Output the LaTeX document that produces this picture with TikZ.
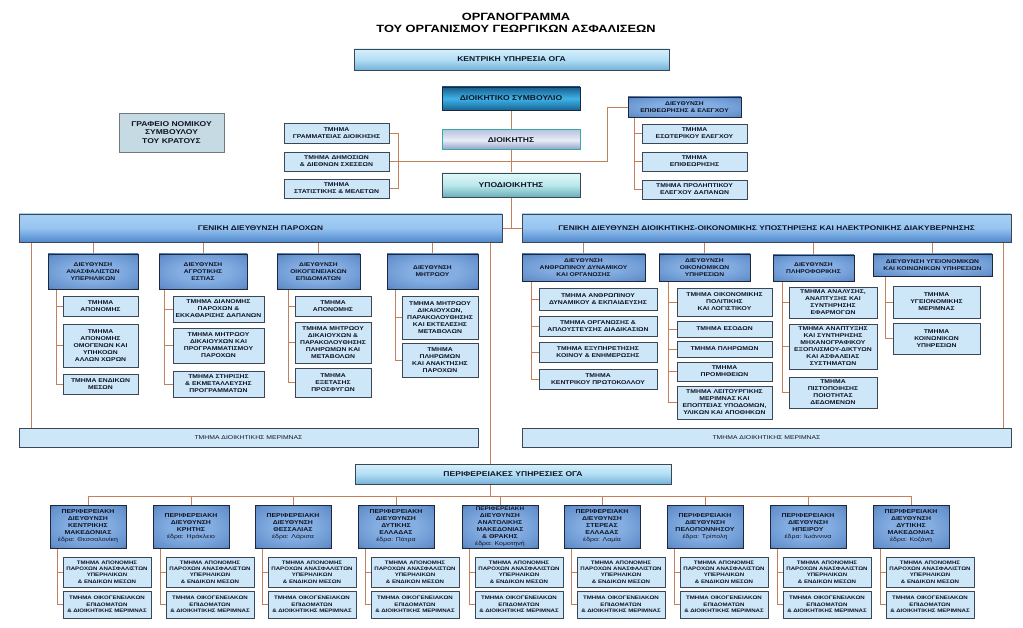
\documentclass[tikz,border=0pt]{standalone}
\usepackage{fontspec}
\setmainfont{Liberation Sans}[FakeStretch=1.22]
\usetikzlibrary{backgrounds}
\definecolor{lnc}{RGB}{196,128,92}
\definecolor{bordc}{RGB}{60,70,84}
\definecolor{tmfill}{RGB}{205,230,248}
\definecolor{txtc}{RGB}{16,20,36}
\definecolor{dirin}{RGB}{132,174,226}
\definecolor{dirmid}{RGB}{100,144,204}
\definecolor{dirout}{RGB}{54,88,144}
\definecolor{diredge}{RGB}{32,54,98}
\pgfdeclareradialshading{dirshade}{\pgfpoint{0bp}{0bp}}{color(0bp)=(dirin); color(14bp)=(dirin); color(31bp)=(dirmid); color(43bp)=(dirout); color(52bp)=(diredge)}
\newcommand\bx[7]{\node[#1, minimum width={((#5)-(#3))*1pt}, minimum height={((#6)-(#4))*1pt}] (#2) at ({((#3)+(#5))/2},{((#4)+(#6))/2}) {#7};}
\tikzset{
  base/.style={rectangle, align=center, inner sep=1pt, text=txtc, draw=bordc, line width=0.7pt},
  kent/.style={base, top color={rgb,255:red,214;green,240;blue,250}, bottom color={rgb,255:red,118;green,178;blue,218}, middle color={rgb,255:red,178;green,222;blue,244}, font={\fontsize{7}{8}\selectfont\bfseries}},
  dsb/.style={base, top color={rgb,255:red,26;green,92;blue,140}, bottom color={rgb,255:red,24;green,100;blue,150}, middle color={rgb,255:red,62;green,180;blue,232}, draw={rgb,255:red,28;green,40;blue,60}, font={\fontsize{7}{8}\selectfont\bfseries}},
  dkb/.style={base, top color={rgb,255:red,184;green,196;blue,224}, bottom color={rgb,255:red,140;green,156;blue,196}, middle color={rgb,255:red,232;green,236;blue,246}, draw={rgb,255:red,58;green,168;blue,168}, line width=1pt, font={\fontsize{7}{8}\selectfont\bfseries}},
  ypb/.style={base, top color={rgb,255:red,226;green,248;blue,248}, bottom color={rgb,255:red,106;green,176;blue,184}, middle color={rgb,255:red,186;green,232;blue,236}, font={\fontsize{7}{8}\selectfont\bfseries}},
  gdb/.style={base, top color={rgb,255:red,168;green,208;blue,244}, bottom color={rgb,255:red,80;green,136;blue,204}, middle color={rgb,255:red,150;green,196;blue,240}, font={\fontsize{6.8}{8}\selectfont\bfseries}},
  dir/.style={base, shading=dirshade, draw={rgb,255:red,30;green,40;blue,60}, font={\fontsize{5.5}{7}\selectfont\bfseries}},
  rdir/.style={dir, font={\fontsize{5.7}{7}\selectfont\bfseries}},
  tm/.style={base, fill=tmfill, font={\fontsize{5.6}{7}\selectfont\bfseries}},
  rsub/.style={tm, font={\fontsize{5}{6.3}\selectfont\bfseries}},
  merb/.style={tm, font={\fontsize{5.6}{7}\selectfont}},
  grafb/.style={base, fill={rgb,255:red,198;green,218;blue,228}, draw={rgb,255:red,110;green,122;blue,130}, font={\fontsize{7}{8.8}\selectfont\bfseries}},
  conn/.style={draw=lnc, line width=0.8pt}
}
\newcommand\reg[3]{%
  \bx{rdir}{r#1}{#2}{505}{#2+76}{548}{#3}
  \bx{rsub}{r#1a}{#2+13}{557}{#2+101}{587}{ΤΜΗΜΑ ΑΠΟΝΟΜΗΣ\\ΠΑΡΟΧΩΝ ΑΝΑΣΦΑΛΙΣΤΩΝ\\ΥΠΕΡΗΛΙΚΩΝ\\\& ΕΝΔΙΚΩΝ ΜΕΣΩΝ}
  \bx{rsub}{r#1b}{#2+13}{591}{#2+101}{618}{ΤΜΗΜΑ ΟΙΚΟΓΕΝΕΙΑΚΩΝ\\ΕΠΙΔΟΜΑΤΩΝ\\\& ΔΙΟΙΚΗΤΙΚΗΣ ΜΕΡΙΜΝΑΣ}
  \begin{pgfonlayer}{background}
    \draw[conn] ([xshift=8pt]r#1.south west) |- (r#1a.west);
    \draw[conn] ([xshift=8pt]r#1.south west) |- (r#1b.west);
    \draw[conn] (r#1.north) -- ([yshift=8pt]r#1.north);
  \end{pgfonlayer}}
\newcommand\edra[1]{{\mdseries έδρα: #1}}
\begin{document}
\begin{tikzpicture}[x=1pt,y=-1pt]
\useasboundingbox (0,0) rectangle (1023,628);
\node[align=center, text=black, font={\fontsize{10.5}{12.5}\selectfont\bfseries}] (title) at (516,23) {ΟΡΓΑΝΟΓΡΑΜΜΑ\\ΤΟΥ ΟΡΓΑΝΙΣΜΟΥ ΓΕΩΡΓΙΚΩΝ ΑΣΦΑΛΙΣΕΩΝ};
% top
\bx{kent}{kent}{354}{49}{669}{70}{ΚΕΝΤΡΙΚΗ ΥΠΗΡΕΣΙΑ ΟΓΑ}
\bx{dsb}{ds}{442}{87}{580}{110}{ΔΙΟΙΚΗΤΙΚΟ ΣΥΜΒΟΥΛΙΟ}
\bx{dkb}{dk}{442}{130}{580}{150}{ΔΙΟΙΚΗΤΗΣ}
\bx{ypb}{yp}{442}{173}{580}{197}{ΥΠΟΔΙΟΙΚΗΤΗΣ}
\bx{tm}{gram}{284}{123}{389}{143}{ΤΜΗΜΑ\\ΓΡΑΜΜΑΤΕΙΑΣ ΔΙΟΙΚΗΣΗΣ}
\bx{tm}{dim}{284}{152}{389}{171}{ΤΜΗΜΑ ΔΗΜΟΣΙΩΝ\\\& ΔΙΕΘΝΩΝ ΣΧΕΣΕΩΝ}
\bx{tm}{stat}{284}{179}{389}{198}{ΤΜΗΜΑ\\ΣΤΑΤΙΣΤΙΚΗΣ \& ΜΕΛΕΤΩΝ}
\bx{dir}{epi}{628}{97}{741}{117}{ΔΙΕΥΘΥΝΣΗ\\ΕΠΙΘΕΩΡΗΣΗΣ \& ΕΛΕΓΧΟΥ}
\bx{tm}{eso}{642}{124}{747}{143}{ΤΜΗΜΑ\\ΕΣΩΤΕΡΙΚΟΥ ΕΛΕΓΧΟΥ}
\bx{tm}{epith}{642}{152}{747}{171}{ΤΜΗΜΑ\\ΕΠΙΘΕΩΡΗΣΗΣ}
\bx{tm}{prol}{642}{180}{747}{199}{ΤΜΗΜΑ ΠΡΟΛΗΠΤΙΚΟΥ\\ΕΛΕΓΧΟΥ ΔΑΠΑΝΩΝ}
\bx{grafb}{graf}{119}{113}{224}{152}{ΓΡΑΦΕΙΟ ΝΟΜΙΚΟΥ\\ΣΥΜΒΟΥΛΟΥ\\ΤΟΥ ΚΡΑΤΟΥΣ}
% general directorates
\bx{gdb}{gd1}{19}{214}{502}{242}{ΓΕΝΙΚΗ ΔΙΕΥΘΥΝΣΗ ΠΑΡΟΧΩΝ}
\bx{gdb}{gd2}{522}{214}{1011}{242}{ΓΕΝΙΚΗ ΔΙΕΥΘΥΝΣΗ ΔΙΟΙΚΗΤΙΚΗΣ-ΟΙΚΟΝΟΜΙΚΗΣ ΥΠΟΣΤΗΡΙΞΗΣ ΚΑΙ ΗΛΕΚΤΡΟΝΙΚΗΣ ΔΙΑΚΥΒΕΡΝΗΣΗΣ}
\bx{merb}{mer1}{19}{428}{478}{447}{ΤΜΗΜΑ ΔΙΟΙΚΗΤΙΚΗΣ ΜΕΡΙΜΝΑΣ}
\bx{merb}{mer2}{522}{428}{1011}{447}{ΤΜΗΜΑ ΔΙΟΙΚΗΤΙΚΗΣ ΜΕΡΙΜΝΑΣ}
% left directorates
\bx{dir}{d1}{48}{254}{138}{289}{ΔΙΕΥΘΥΝΣΗ\\ΑΝΑΣΦΑΛΙΣΤΩΝ\\ΥΠΕΡΗΛΙΚΩΝ}
\bx{dir}{d2}{159}{254}{247}{289}{ΔΙΕΥΘΥΝΣΗ\\ΑΓΡΟΤΙΚΗΣ\\ΕΣΤΙΑΣ}
\bx{dir}{d3}{277}{254}{360}{289}{ΔΙΕΥΘΥΝΣΗ\\ΟΙΚΟΓΕΝΕΙΑΚΩΝ\\ΕΠΙΔΟΜΑΤΩΝ}
\bx{dir}{d4}{387}{254}{478}{289}{ΔΙΕΥΘΥΝΣΗ\\ΜΗΤΡΩΟΥ}
\bx{tm}{s11}{63}{296}{138}{316}{ΤΜΗΜΑ\\ΑΠΟΝΟΜΗΣ}
\bx{tm}{s12}{63}{324}{138}{367}{ΤΜΗΜΑ\\ΑΠΟΝΟΜΗΣ\\ΟΜΟΓΕΝΩΝ ΚΑΙ\\ΥΠΗΚΟΩΝ\\ΑΛΛΩΝ ΧΩΡΩΝ}
\bx{tm}{s13}{63}{374}{138}{394}{ΤΜΗΜΑ ΕΝΔΙΚΩΝ\\ΜΕΣΩΝ}
\bx{tm}{s21}{173}{296}{264}{322}{ΤΜΗΜΑ ΔΙΑΝΟΜΗΣ\\ΠΑΡΟΧΩΝ \&\\ΕΚΚΑΘΑΡΙΣΗΣ ΔΑΠΑΝΩΝ}
\bx{tm}{s22}{173}{328}{264}{363}{ΤΜΗΜΑ ΜΗΤΡΩΟΥ\\ΔΙΚΑΙΟΥΧΩΝ ΚΑΙ\\ΠΡΟΓΡΑΜΜΑΤΙΣΜΟΥ\\ΠΑΡΟΧΩΝ}
\bx{tm}{s23}{173}{371}{264}{397}{ΤΜΗΜΑ ΣΤΗΡΙΞΗΣ\\\& ΕΚΜΕΤΑΛΛΕΥΣΗΣ\\ΠΡΟΓΡΑΜΜΑΤΩΝ}
\bx{tm}{s31}{295}{296}{371}{316}{ΤΜΗΜΑ\\ΑΠΟΝΟΜΗΣ}
\bx{tm}{s32}{295}{322}{371}{363}{ΤΜΗΜΑ ΜΗΤΡΩΟΥ\\ΔΙΚΑΙΟΥΧΩΝ \&\\ΠΑΡΑΚΟΛΟΥΘΗΣΗΣ\\ΠΛΗΡΩΜΩΝ ΚΑΙ\\ΜΕΤΑΒΟΛΩΝ}
\bx{tm}{s33}{295}{368}{371}{397}{ΤΜΗΜΑ\\ΕΞΕΤΑΣΗΣ\\ΠΡΟΣΦΥΓΩΝ}
\bx{tm}{s41}{402}{296}{478}{339}{ΤΜΗΜΑ ΜΗΤΡΩΟΥ\\ΔΙΚΑΙΟΥΧΩΝ,\\ΠΑΡΑΚΟΛΟΥΘΗΣΗΣ\\ΚΑΙ ΕΚΤΕΛΕΣΗΣ\\ΜΕΤΑΒΟΛΩΝ}
\bx{tm}{s42}{402}{343}{478}{377}{ΤΜΗΜΑ\\ΠΛΗΡΩΜΩΝ\\ΚΑΙ ΑΝΑΚΤΗΣΗΣ\\ΠΑΡΟΧΩΝ}
% right directorates
\bx{dir}{dA}{522}{254}{645}{281}{ΔΙΕΥΘΥΝΣΗ\\ΑΝΘΡΩΠΙΝΟΥ ΔΥΝΑΜΙΚΟΥ\\ΚΑΙ ΟΡΓΑΝΩΣΗΣ}
\bx{dir}{dB}{659}{254}{750}{281}{ΔΙΕΥΘΥΝΣΗ\\ΟΙΚΟΝΟΜΙΚΩΝ\\ΥΠΗΡΕΣΙΩΝ}
\bx{dir}{dC}{773}{255}{854}{281}{ΔΙΕΥΘΥΝΣΗ\\ΠΛΗΡΟΦΟΡΙΚΗΣ}
\bx{dir}{dD}{873}{254}{992}{276}{ΔΙΕΥΘΥΝΣΗ ΥΓΕΙΟΝΟΜΙΚΩΝ\\ΚΑΙ ΚΟΙΝΩΝΙΚΩΝ ΥΠΗΡΕΣΙΩΝ}
\bx{tm}{sA1}{539}{288}{657}{310}{ΤΜΗΜΑ ΑΝΘΡΩΠΙΝΟΥ\\ΔΥΝΑΜΙΚΟΥ \& ΕΚΠΑΙΔΕΥΣΗΣ}
\bx{tm}{sA2}{539}{316}{657}{336}{ΤΜΗΜΑ ΟΡΓΑΝΩΣΗΣ \&\\ΑΠΛΟΥΣΤΕΥΣΗΣ ΔΙΑΔΙΚΑΣΙΩΝ}
\bx{tm}{sA3}{539}{342}{657}{362}{ΤΜΗΜΑ ΕΞΥΠΗΡΕΤΗΣΗΣ\\ΚΟΙΝΟΥ \& ΕΝΗΜΕΡΩΣΗΣ}
\bx{tm}{sA4}{539}{369}{657}{389}{ΤΜΗΜΑ\\ΚΕΝΤΡΙΚΟΥ ΠΡΩΤΟΚΟΛΛΟΥ}
\bx{tm}{sB1}{677}{288}{772}{316}{ΤΜΗΜΑ ΟΙΚΟΝΟΜΙΚΗΣ\\ΠΟΛΙΤΙΚΗΣ\\ΚΑΙ ΛΟΓΙΣΤΙΚΟΥ}
\bx{tm}{sB2}{677}{321}{772}{337}{ΤΜΗΜΑ ΕΣΟΔΩΝ}
\bx{tm}{sB3}{677}{341}{772}{357}{ΤΜΗΜΑ ΠΛΗΡΩΜΩΝ}
\bx{tm}{sB4}{677}{362}{772}{381}{ΤΜΗΜΑ\\ΠΡΟΜΗΘΕΙΩΝ}
\bx{tm}{sB5}{677}{386}{772}{419}{ΤΜΗΜΑ ΛΕΙΤΟΥΡΓΙΚΗΣ\\ΜΕΡΙΜΝΑΣ ΚΑΙ\\ΕΠΟΠΤΕΙΑΣ ΥΠΟΔΟΜΩΝ,\\ΥΛΙΚΩΝ ΚΑΙ ΑΠΟΘΗΚΩΝ}
\bx{tm}{sC1}{789}{287}{877}{318}{ΤΜΗΜΑ ΑΝΑΛΥΣΗΣ,\\ΑΝΑΠΤΥΞΗΣ ΚΑΙ\\ΣΥΝΤΗΡΗΣΗΣ\\ΕΦΑΡΜΟΓΩΝ}
\bx{tm}{sC2}{789}{324}{877}{369}{ΤΜΗΜΑ ΑΝΑΠΤΥΞΗΣ\\ΚΑΙ ΣΥΝΤΗΡΗΣΗΣ\\ΜΗΧΑΝΟΓΡΑΦΙΚΟΥ\\ΕΞΟΠΛΙΣΜΟΥ-ΔΙΚΤΥΩΝ\\ΚΑΙ ΑΣΦΑΛΕΙΑΣ\\ΣΥΣΤΗΜΑΤΩΝ}
\bx{tm}{sC3}{789}{377}{877}{408}{ΤΜΗΜΑ\\ΠΙΣΤΟΠΟΙΗΣΗΣ\\ΠΟΙΟΤΗΤΑΣ\\ΔΕΔΟΜΕΝΩΝ}
\bx{tm}{sD1}{893}{286}{980}{318}{ΤΜΗΜΑ\\ΥΓΕΙΟΝΟΜΙΚΗΣ\\ΜΕΡΙΜΝΑΣ}
\bx{tm}{sD2}{893}{323}{980}{354}{ΤΜΗΜΑ\\ΚΟΙΝΩΝΙΚΩΝ\\ΥΠΗΡΕΣΙΩΝ}
% regional
\bx{kent}{per}{355}{464}{671}{484}{ΠΕΡΙΦΕΡΕΙΑΚΕΣ ΥΠΗΡΕΣΙΕΣ ΟΓΑ}
\reg{1}{50}{ΠΕΡΙΦΕΡΕΙΑΚΗ\\ΔΙΕΥΘΥΝΣΗ\\ΚΕΝΤΡΙΚΗΣ\\ΜΑΚΕΔΟΝΙΑΣ\\\edra{Θεσσαλονίκη}}
\reg{2}{153}{ΠΕΡΙΦΕΡΕΙΑΚΗ\\ΔΙΕΥΘΥΝΣΗ\\ΚΡΗΤΗΣ\\\edra{Ηράκλειο}}
\reg{3}{255}{ΠΕΡΙΦΕΡΕΙΑΚΗ\\ΔΙΕΥΘΥΝΣΗ\\ΘΕΣΣΑΛΙΑΣ\\\edra{Λάρισα}}
\reg{4}{358}{ΠΕΡΙΦΕΡΕΙΑΚΗ\\ΔΙΕΥΘΥΝΣΗ\\ΔΥΤΙΚΗΣ\\ΕΛΛΑΔΑΣ\\\edra{Πάτρα}}
\reg{5}{462}{\fontsize{5.2}{6.4}\selectfont ΠΕΡΙΦΕΡΕΙΑΚΗ\\ΔΙΕΥΘΥΝΣΗ\\ΑΝΑΤΟΛΙΚΗΣ\\ΜΑΚΕΔΟΝΙΑΣ\\\& ΘΡΑΚΗΣ\\\edra{Κομοτηνή}}
\reg{6}{564}{ΠΕΡΙΦΕΡΕΙΑΚΗ\\ΔΙΕΥΘΥΝΣΗ\\ΣΤΕΡΕΑΣ\\ΕΛΛΑΔΑΣ\\\edra{Λαμία}}
\reg{7}{667}{ΠΕΡΙΦΕΡΕΙΑΚΗ\\ΔΙΕΥΘΥΝΣΗ\\ΠΕΛΟΠΟΝΝΗΣΟΥ\\\edra{Τρίπολη}}
\reg{8}{770}{ΠΕΡΙΦΕΡΕΙΑΚΗ\\ΔΙΕΥΘΥΝΣΗ\\ΗΠΕΙΡΟΥ\\\edra{Ιωάννινα}}
\reg{9}{873}{ΠΕΡΙΦΕΡΕΙΑΚΗ\\ΔΙΕΥΘΥΝΣΗ\\ΔΥΤΙΚΗΣ\\ΜΑΚΕΔΟΝΙΑΣ\\\edra{Κοζάνη}}
% connectors
\begin{pgfonlayer}{background}
\draw[conn] (ds.south) -- (dk.north);
\draw[conn] (dk.south) -- (yp.north);
\draw[conn] (yp.south) |- (gd1.east);
\draw[conn] (yp.south) |- (gd2.west);
\draw[conn] (gram.east) -| ([xshift=9pt]stat.east) -- (stat.east);
\draw[conn] (dim.east) -| ([xshift=-20pt]epi.west) -- (epi.west);
\foreach \s in {eso,epith,prol} \draw[conn] ([xshift=7pt]epi.south west) |- (\s.west);
\foreach \d in {d1,d2,d3,d4} \draw[conn] (\d.north |- gd1.south) -- (\d.north);
\foreach \d in {dA,dB,dC,dD} \draw[conn] (\d.north |- gd2.south) -- (\d.north);
\foreach \s in {s11,s12,s13} \draw[conn] ([xshift=9pt]d1.south west) |- (\s.west);
\foreach \s in {s21,s22,s23} \draw[conn] ([xshift=6pt]d2.south west) |- (\s.west);
\foreach \s in {s31,s32,s33} \draw[conn] ([xshift=12pt]d3.south west) |- (\s.west);
\foreach \s in {s41,s42} \draw[conn] ([xshift=9pt]d4.south west) |- (\s.west);
\foreach \s in {sA1,sA2,sA3,sA4} \draw[conn] ([xshift=10pt]dA.south west) |- (\s.west);
\foreach \s in {sB1,sB2,sB3,sB4,sB5} \draw[conn] ([xshift=10pt]dB.south west) |- (\s.west);
\foreach \s in {sC1,sC2,sC3} \draw[conn] ([xshift=10pt]dC.south west) |- (\s.west);
\foreach \s in {sD1,sD2} \draw[conn] ([xshift=13pt]dD.south west) |- (\s.west);
\coordinate (vL) at ([xshift=13pt]gd1.south west);
\draw[conn] (vL) -- (vL |- mer1.north);
\coordinate (vR) at ([xshift=-8pt]gd2.south east);
\draw[conn] (vR) -- (vR |- mer2.north);
\coordinate (hl) at ([yshift=8pt]r1.north);
\coordinate (vP) at ([xshift=-12pt]gd1.south east);
\draw[conn] (vP) -- (vP |- hl);
\draw[conn] (r1.north) |- ([yshift=8pt]r9.north) -- (r9.north);
\end{pgfonlayer}
\end{tikzpicture}
\end{document}
